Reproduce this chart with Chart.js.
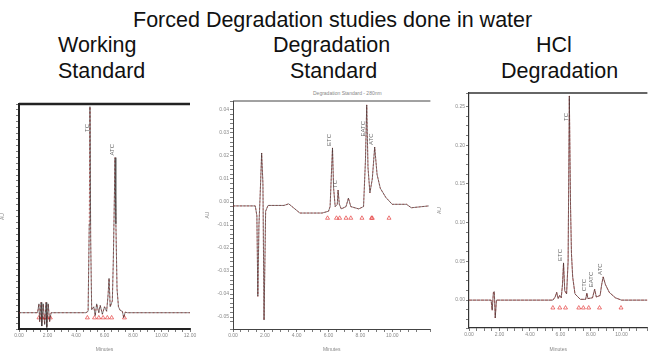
<!DOCTYPE html>
<html>
<head>
<meta charset="utf-8">
<script src="https://cdn.jsdelivr.net/npm/chart.js@4.4.1/dist/chart.umd.min.js"></script>
<style>
body { margin:0; background:#fff; width:652px; height:353px; overflow:hidden; position:relative; font-family:"Liberation Sans", Arial, sans-serif; }
.t { position:absolute; font-size:21.5px; line-height:21.5px; color:#111; white-space:nowrap; }
.sub { position:absolute; font-size:5px; line-height:5px; color:#888; white-space:nowrap; }
canvas { position:absolute; }
</style>
</head>
<body>
<div class="t" style="left:133px;top:10px">Forced Degradation studies done in water</div>
<div class="t" style="left:58px;top:35px">Working</div>
<div class="t" style="left:58px;top:61px">Standard</div>
<div class="t" style="left:273px;top:35px">Degradation</div>
<div class="t" style="left:290px;top:61px">Standard</div>
<div class="t" style="left:536px;top:35px">HCl</div>
<div class="t" style="left:501px;top:61px">Degradation</div>
<div class="sub" style="left:313px;top:91px">Degradation Standard - 280nm</div>

<canvas id="ws" width="205" height="263" style="left:0;top:90px"></canvas>
<canvas id="ds" width="230" height="268" style="left:205px;top:85px"></canvas>
<canvas id="hcl" width="215" height="273" style="left:437px;top:80px"></canvas>

<script>
// Working standard (minutes / AU)
const times1 = [0, 1.3, 1.4, 1.45, 1.55, 1.6, 1.7, 1.8, 1.9, 1.95, 2.05, 2.15, 2.25, 4.7, 4.85, 4.93, 4.98, 5.03, 5.1, 5.25,
    5.35, 5.45, 5.6, 5.7, 5.85, 6.0, 6.15, 6.25, 6.32, 6.4, 6.55, 6.62, 6.68, 6.74, 6.8, 6.88, 6.98, 7.1, 7.25, 7.35, 7.45, 7.6, 12];
const signal1 = [0, 0, 0.03, -0.03, 0.035, -0.045, 0.03, -0.04, 0.035, -0.05, 0.03, -0.03, 0, 0, 0.005, 0.3, 0.696, 0.25, 0.01, 0.02,
    -0.01, 0.03, 0.0, 0.025, -0.005, 0.02, 0.005, 0.06, 0.116, 0.02, 0.04, 0.18, 0.35, 0.524, 0.3, 0.08, 0.02, 0.008, 0.005, -0.017, 0.002, 0, 0];
const marks1 = [1.4, 1.6, 1.8, 2.0, 2.2, 4.8, 5.3, 5.6, 5.9, 6.2, 6.5, 7.4];
const markLevel1 = [-0.017, -0.017, -0.017, -0.017, -0.017, -0.017, -0.017, -0.017, -0.017, -0.017, -0.017, -0.017];
const peakT1 = [4.98, 6.74];
const peakV1 = [0.696, 0.524];
const peakNames1 = ['TC', 'ATC'];

// Degradation standard
const times2 = [0, 1.4, 1.5, 1.56, 1.63, 1.7, 1.8, 1.88, 1.95, 2.05, 2.2, 3.2, 3.5, 3.8, 4.2, 5.6, 6.0, 6.1, 6.18, 6.25,
    6.32, 6.42, 6.55, 6.6, 6.68, 6.8, 7.1, 7.25, 7.4, 7.9, 8.2, 8.32, 8.4, 8.48, 8.6, 8.75, 8.9, 9.05, 9.25, 9.6, 10.0, 10.9, 11.2, 12.3];
const signal2 = [-0.0017, -0.0017, -0.006, -0.041, -0.01, 0.002, 0.0213, 0.008, -0.0513, -0.004, -0.0015, -0.0015, -0.0008, -0.0025, -0.0048, -0.0048, -0.004, -0.002, 0.012, 0.0235,
    0.006, -0.002, -0.001, 0.0052, -0.001, -0.003, -0.002, 0.0017, -0.002, -0.003, -0.002, 0.018, 0.0422, 0.015, 0.004, 0.01, 0.0239, 0.012, 0.006, 0.002, -0.001, -0.001, -0.0025, -0.0017];
const marks2 = [5.94, 6.5, 6.7, 7.1, 7.4, 8.1, 8.7, 8.75, 9.8];
const markLevel2 = [-0.007, -0.007, -0.007, -0.007, -0.007, -0.007, -0.007, -0.007, -0.007];
const peakT2 = [6.25, 6.6, 8.4, 8.9];
const peakV2 = [0.0235, 0.0052, 0.0422, 0.0239];
const peakNames2 = ['ETC', 'TC', 'EATC', 'ATC'];

// HCl degradation
const times3 = [0, 1.45, 1.52, 1.6, 1.66, 1.72, 1.8, 5.5, 5.65, 5.75, 5.85, 5.95, 6.05, 6.13, 6.2, 6.28, 6.4, 6.5, 6.58, 6.66,
    6.72, 6.8, 6.95, 7.3, 7.65, 7.73, 7.8, 8.1, 8.24, 8.35, 8.6, 8.7, 8.8, 8.95, 9.2, 9.6, 10.0, 11.7];
const signal3 = [0, 0, -0.013, 0.01, 0.011, -0.023, 0, 0, 0.004, 0.01, 0.002, 0.006, 0.003, 0.02, 0.048, 0.012, 0.008, 0.05, 0.2636, 0.12,
    0.06, 0.03, 0.008, 0.001, 0.001, 0.009, 0.002, 0.003, 0.014, 0.004, 0.006, 0.02, 0.03, 0.02, 0.01, 0.003, 0, 0];
const marks3 = [5.5, 5.95, 6.33, 7.2, 7.5, 7.85, 8.56, 9.97];
const markLevel3 = [-0.01, -0.01, -0.01, -0.01, -0.01, -0.01, -0.01, -0.01];
const peakT3 = [6.2, 6.58, 7.73, 8.24, 8.8];
const peakV3 = [0.048, 0.2636, 0.009, 0.014, 0.03];
const peakNames3 = ['ETC', 'TC', 'CTC', 'EATC', 'ATC'];

// top frame line
const topLine = {
    id: 'topLine',
    afterDraw(chart, args, o) {
        const { ctx, chartArea: a } = chart;
        ctx.save();
        ctx.strokeStyle = o.color;
        ctx.lineWidth = o.width;
        ctx.beginPath();
        ctx.moveTo(a.left, a.top);
        ctx.lineTo(a.right, a.top);
        ctx.stroke();
        ctx.restore();
    }
};

// vertical peak names
const peakLabels = {
    id: 'peakLabels',
    afterDatasetsDraw(chart, args, o) {
        const { ctx, chartArea: a, scales } = chart;
        ctx.save();
        ctx.font = '6px "Liberation Sans", Arial';
        ctx.fillStyle = '#666';
        ctx.textBaseline = 'middle';
        o.names.forEach((name, i) => {
            const x = scales.x.getPixelForValue(o.t[i]);
            const w = ctx.measureText(name).width;
            const y = Math.max(scales.y.getPixelForValue(o.v[i]) - 2, a.top + 20 + w);
            ctx.save();
            ctx.translate(x - 3, y);
            ctx.rotate(-Math.PI / 2);
            ctx.fillText(name, 0, 0);
            ctx.restore();
        });
        ctx.restore();
    }
};

function near(v, step) {
    return Math.abs(v / step - Math.round(v / step)) < 1e-6;
}

function peakChart(id, t, sig, marks, markLevel, pt, pv, names, cfg) {
    const pts = t.map((x, i) => ({ x: x, y: sig[i] }));
    const tri = marks.map((x, i) => ({ x: x, y: markLevel[i] }));
    return new Chart(document.getElementById(id).getContext('2d'), {
        type: 'line',
        data: {
            datasets: [{
                data: pts,
                borderColor: '#333',
                borderWidth: 0.6,
                pointRadius: 0,
                tension: 0
            }, {
                data: pts,
                borderColor: '#e02020',
                borderWidth: 0.6,
                borderDash: cfg.dash,
                pointRadius: 0,
                tension: 0
            }, {
                type: 'scatter',
                data: tri,
                showLine: false,
                pointStyle: 'triangle',
                pointRadius: 2.3,
                borderWidth: 0.6,
                borderColor: '#e02020',
                backgroundColor: 'rgba(0,0,0,0)'
            }]
        },
        options: {
            responsive: false,
            animation: false,
            layout: { padding: { top: cfg.top, right: cfg.right, left: 0, bottom: 0 } },
            plugins: {
                legend: { display: false },
                tooltip: { enabled: false },
                topLine: { color: cfg.border, width: cfg.topWidth },
                peakLabels: { t: pt, v: pv, names: names }
            },
            scales: {
                x: {
                    type: 'linear',
                    min: 0,
                    max: cfg.xMax,
                    afterFit: s => { s.height = cfg.xh; },
                    border: { color: cfg.border, width: cfg.bw },
                    grid: { drawOnChartArea: false, tickLength: 3, color: '#444', lineWidth: 0.7 },
                    ticks: {
                        stepSize: 0.5, autoSkip: false, maxRotation: 0, padding: 1,
                        font: { size: 5 }, color: '#888',
                        callback: v => near(v, 2) ? v.toFixed(2) : ''
                    },
                    title: { display: true, text: 'Minutes', font: { size: 5 }, color: '#888', padding: 0 }
                },
                y: {
                    min: cfg.yMin,
                    max: cfg.yMax,
                    afterFit: s => { s.width = cfg.yw; },
                    border: { color: cfg.border, width: cfg.bw },
                    grid: { drawOnChartArea: false, tickLength: 3, color: '#444', lineWidth: 0.7 },
                    ticks: {
                        stepSize: cfg.minor, autoSkip: false, padding: 1,
                        font: { size: 5 }, color: '#888',
                        callback: v => near(v, cfg.major) ? v.toFixed(2) : ''
                    },
                    title: { display: true, text: 'AU', font: { size: 5 }, color: '#888', padding: 0 }
                }
            }
        },
        plugins: [topLine, peakLabels]
    });
}

const wsChart = peakChart('ws', times1, signal1, marks1, markLevel1, peakT1, peakV1, peakNames1, {
    top: 14, right: 15, xh: 24, yw: 19, xMax: 12, yMin: -0.055, yMax: 0.705,
    major: 0.1, minor: 0.02, border: '#222', bw: 2, topWidth: 2.5, dash: [2, 2]
});

const dsChart = peakChart('ds', times2, signal2, marks2, markLevel2, peakT2, peakV2, peakNames2, {
    top: 16, right: 0, xh: 24, yw: 28, xMax: 12.4, yMin: -0.0552, yMax: 0.0439,
    major: 0.01, minor: 0.002, border: '#444', bw: 1, topWidth: 1, dash: [2, 1.5]
});

const hclChart = peakChart('hcl', times3, signal3, marks3, markLevel3, peakT3, peakV3, peakNames3, {
    top: 13, right: 0, xh: 25, yw: 32, xMax: 11.7, yMin: -0.036, yMax: 0.2674,
    major: 0.05, minor: 0.0125, border: '#333', bw: 1.2, topWidth: 1.5, dash: [3, 1]
});
</script>
</body>
</html>
